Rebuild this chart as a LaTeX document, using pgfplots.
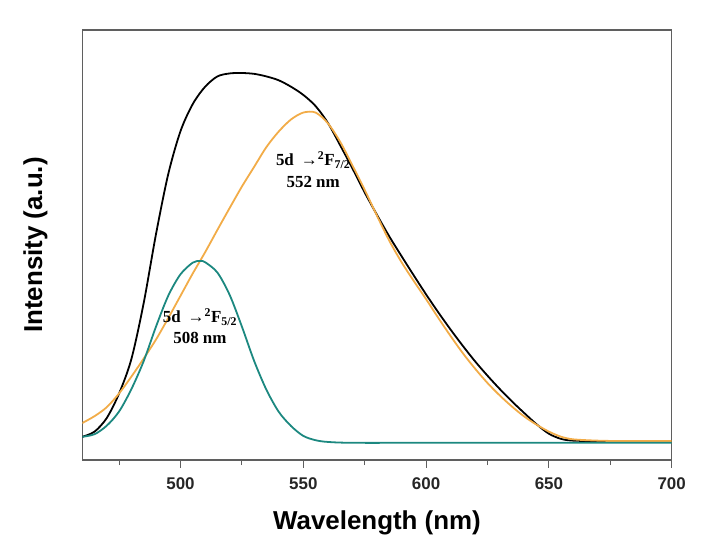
\documentclass[border=0pt]{standalone}
\usepackage{fontspec}
\setmainfont{Liberation Serif}
\setsansfont{Liberation Sans}
\usepackage{pgfplots}
\usepackage{pgfplotstable}
\pgfplotsset{compat=1.18}
\definecolor{myorange}{RGB}{242,172,72}
\definecolor{myteal}{RGB}{28,136,128}
\definecolor{axgray}{RGB}{95,95,95}

\pgfplotstableread{
x y
460 5.4
465 6.6
470 9.8
475 15.5
480 23.5
485 36.5
490 52.5
495 66.5
500 76.5
505 82.8
510 86.8
515 89.2
520 89.9
525 90.0
530 89.8
535 89.2
540 88.3
545 86.8
550 84.9
555 82.3
560 78.4
565 73.2
570 67.8
575 62.2
580 57.0
585 52.0
590 47.4
595 42.9
600 38.5
605 34.3
610 30.3
615 26.5
620 22.9
625 19.6
630 16.5
635 13.6
640 10.9
645 8.3
650 6.1
655 4.9
660 4.5
670 4.4
680 4.4
690 4.4
700 4.4
}\blackdata

\pgfplotstableread{
x y
460 8.6
465 10.2
470 12.3
475 15.5
480 19.4
485 23.6
490 28.0
495 33.0
500 38.2
505 43.4
510 48.3
515 53.5
520 58.6
525 63.6
530 68.2
535 72.8
540 76.4
545 79.2
550 80.8
555 80.8
560 78.3
565 74.0
570 68.5
575 62.8
580 56.8
585 51.0
590 46.0
595 41.6
600 37.4
605 33.0
610 28.8
615 24.8
620 21.2
625 17.9
630 15.0
635 12.4
640 10.1
645 8.2
650 6.6
655 5.4
660 4.8
670 4.5
680 4.4
690 4.4
700 4.4
}\orangedata

\pgfplotstableread{
x y
460 5.4
465 6.0
470 8.0
475 11.3
480 16.5
485 23.0
490 31.0
495 38.2
500 43.2
505 45.9
508 46.3
510 46.0
515 43.6
520 38.4
525 31.0
530 23.0
535 16.3
540 11.2
545 7.9
550 5.6
555 4.6
560 4.2
570 4.0
600 4.0
650 4.0
700 4.0
}\tealdata

\begin{document}
\begin{tikzpicture}
\useasboundingbox (-82.3bp,-84bp) rectangle (623.7bp,460bp);
\begin{axis}[
  at={(0,0)}, anchor=south west,
  width=589.4bp, height=430bp, scale only axis,
  xmin=460, xmax=700, ymin=0, ymax=100,
  xtick={500,550,600,650,700},
  minor xtick={475,525,575,625,675},
  ytick=\empty,
  xtick pos=left,
  tick align=outside,
  major tick length=8bp, minor tick length=5bp,
  axis line style={axgray, line width=1.3bp},
  every tick/.style={axgray, line width=1.1bp},
  /pgf/number format/assume math mode=true,
  xticklabel style={font=\sffamily\bfseries\fontsize{17}{17}\selectfont, text=black!85, yshift=-6bp},
  xlabel={Wavelength (nm)},
  ylabel={Intensity (a.u.)},
  label style={font=\sffamily\bfseries\fontsize{26}{26}\selectfont},
  xlabel style={at={(axis description cs:0.5,-0.1465)}, anchor=center},
  ylabel style={at={(axis description cs:-0.0797,0.5)}, anchor=center},
]
\addplot[black, line width=1.8bp, smooth] table[x=x,y=y] {\blackdata};
\addplot[myorange, line width=1.8bp, smooth] table[x=x,y=y] {\orangedata};
\addplot[myteal, line width=1.8bp, smooth] table[x=x,y=y] {\tealdata};
\node[font=\rmfamily\bfseries\fontsize{17}{17}\selectfont, anchor=center] at (axis cs:554,69.8) {5d \,→\textsuperscript{2}F\textsubscript{7/2}};
\node[font=\rmfamily\bfseries\fontsize{17}{17}\selectfont, anchor=center] at (axis cs:554,64.7) {552 nm};
\node[font=\rmfamily\bfseries\fontsize{17}{17}\selectfont, anchor=center] at (axis cs:507.9,33.3) {5d \,→\textsuperscript{2}F\textsubscript{5/2}};
\node[font=\rmfamily\bfseries\fontsize{17}{17}\selectfont, anchor=center] at (axis cs:507.9,28.4) {508 nm};
\end{axis}
\end{tikzpicture}
\end{document}
